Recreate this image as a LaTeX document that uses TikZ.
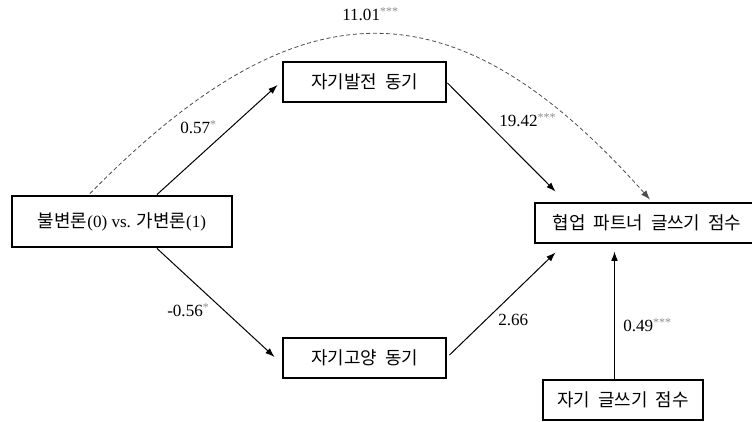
\documentclass[tikz,border=0pt]{standalone}
\usepackage{fontspec}
\setmainfont{Liberation Serif}
\newfontfamily\kr[WordSpace=2,Scale=1.05]{Noto Sans CJK KR}
\usetikzlibrary{arrows.meta,calc}
\newcommand\sigstars[1]{\raisebox{0.3em}{\fontsize{9}{9}\selectfont\textcolor{black!45}{#1}}}

\begin{document}
\begin{tikzpicture}[x=0.75pt,y=-0.75pt,
  varbox/.style={draw, line width=2.2pt, rectangle, inner sep=0pt,
    font=\fontsize{12.8}{15}\selectfont},
  effect/.style={line width=0.75pt, -{Latex[length=7pt,width=5pt]}},
  total/.style={line width=0.6pt, draw=black!70, dash pattern=on 3pt off 2pt,
    -{Latex[length=7pt,width=5pt]}},
  coef/.style={font=\fontsize{12.8}{15}\selectfont, anchor=west, inner sep=0pt},
]
\useasboundingbox (0,0) rectangle (752,421);

% variables
\node[varbox, minimum width=220*0.75pt, minimum height=51*0.75pt] (A) at (122,221.5)
  {{\kr 불변론}(0) vs. {\kr 가변론}(1)};
\node[varbox, minimum width=163*0.75pt, minimum height=40*0.75pt] (B) at (364.5,82)
  {\kr 자기발전 동기};
\node[varbox, minimum width=163*0.75pt, minimum height=40*0.75pt] (C) at (364.5,358)
  {\kr 자기고양 동기};
\node[varbox, minimum width=224*0.75pt, minimum height=40*0.75pt] (D) at (647,223)
  {\kr 협업 파트너 글쓰기 점수};
\node[varbox, minimum width=160*0.75pt, minimum height=40*0.75pt] (E) at (623,400)
  {\kr 자기 글쓰기 점수};

% total effect
\draw[total] ($(A.north)+(-32,-1)$) .. controls (300,-20) and (455,-20) .. ($(D.north)+(3,-2)$);

% indirect paths
\draw[effect] ($(A.north)+(35,0)$) -- ($(B.west)+(-4,3)$);
\draw[effect] ($(B.east)+(0,1)$) -- ($(D.north west)+(22,-10)$);
\draw[effect] ($(A.south)+(35,0)$) -- ($(C.west)+(-7,-1)$);
\draw[effect] ($(C.east)+(2,-3)$) -- ($(D.south west)+(22,8)$);

% covariate
\coordinate (eTop) at ($(E.north)+(-8.5,0)$);
\draw[effect] (eTop) -- ($(eTop |- D.south)+(0,7)$);

% coefficients
\node[coef] (c1) at (342,14) {11.01\sigstars{***}};
\node[coef] (c2) at (180,127) {0.57\sigstars{*}};
\node[coef] (c3) at (499,120) {19.42\sigstars{***}};
\node[coef] (c4) at (167,310) {-0.56\sigstars{*}};
\node[coef] (c5) at (498,320) {2.66};
\node[coef] (c6) at (623,325) {0.49\sigstars{***}};
\end{tikzpicture}
\end{document}
